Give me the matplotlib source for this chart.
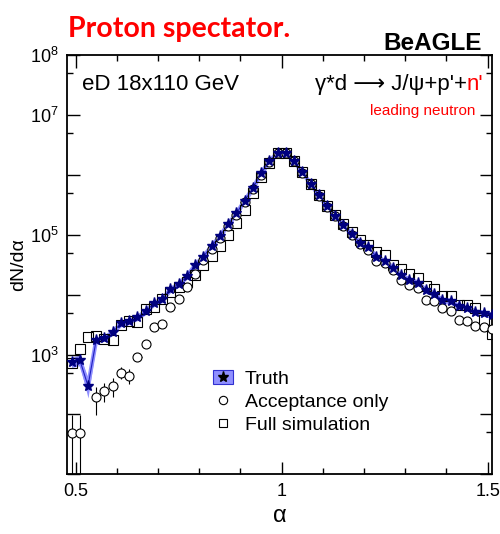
import numpy as np
import matplotlib
matplotlib.use("Agg")
import matplotlib.pyplot as plt
from matplotlib.lines import Line2D
from matplotlib.patches import Patch
from matplotlib.legend_handler import HandlerTuple
from matplotlib.ticker import MultipleLocator, LogLocator, FuncFormatter, NullFormatter

plt.rcParams["font.family"] = ["Liberation Sans", "DejaVu Sans"]
plt.rcParams["mathtext.fontset"] = "custom"
plt.rcParams["mathtext.rm"] = "Liberation Sans"
plt.rcParams["mathtext.it"] = "Liberation Sans:italic"

# bin centres in alpha (bin width 0.02)
alpha = np.round(np.arange(0.49, 1.52, 0.02), 2)

truth = [762, 817, 299, 1770, 1900, 2390, 3320, 3650, 4200, 5300,
         7180, 8450, 12300, 15200, 20600, 31300, 43500, 64600, 96200, 150000,
         228000, 373000, 596000, 1070000, 1700000, 2360000, 2360000, 1700000, 1120000, 718000,
         460000, 302000, 208000, 147000, 103000, 74300, 61700, 43500, 36100, 28500,
         21000, 17900, 15900, 12000, 10400, 8070, 7890, 6390, 6100, 5180,
         4940, 4610]
truth_rel = [0.2, 0.2, 0.37] + [0.12] * 49

acceptance = [49, 49, np.nan, 196, 248, 299, 500, 445, 918, 1500,
              2880, 3240, 6240, 8650, 13500, 22600, 37800, 58900, 89500, 140000,
              213000, 356000, 581000, 1020000, 1660000, 2360000, 2360000, 1700000, 1090000, 701000,
              450000, 295000, 203000, 140000, 98400, 69300, 56100, 36900, 33600, 26000,
              17500, 14500, 12900, 8260, 7890, 5960, 5420, 3730, 3650, 3030,
              2880, 2630]
acc_err = [48, 48, 0, 97, 85, 100, 110, 120, 130, 150] + [0] * 42

fullsim = [728, 1240, 1990, 2030, 1810, 1770, 3100, 3650, 3560, 5820,
           6240, 8450, 11200, 13500, 16300, 21600, 31300, 44500, 64600, 98400,
           161000, 256000, 493000, 927000, 1590000, 2360000, 2360000, 1700000, 1120000, 718000,
           471000, 309000, 213000, 153000, 111000, 81700, 67800, 51200, 45500, 31300,
           26600, 22100, 18700, 13800, 12300, 9510, 9510, 6700, 6700, 6100,
           3730, 2230]

truth = np.array(truth, dtype=float)
truth_rel = np.array(truth_rel)
acceptance = np.array(acceptance, dtype=float)
acc_err = np.array(acc_err, dtype=float)
fullsim = np.array(fullsim, dtype=float)

band_color = "#9090ff"
star_color = "#00007f"

fig = plt.figure(figsize=(5.0, 5.34), dpi=100)
ax = fig.add_axes([0.134, 0.1118, 0.85, 0.7846])
ax.set_yscale("log")

# truth band + line
ax.fill_between(alpha, truth * (1 - truth_rel), truth * (1 + truth_rel),
                color=band_color, lw=0, zorder=1)
ax.plot(alpha, truth, color=band_color, lw=3, zorder=1)
ax.plot(alpha, truth, color="#2020c0", lw=0.8, zorder=2)

# full simulation
ax.plot(alpha, fullsim, ls="none", marker="s", ms=6.5, mfc="none",
        mec="black", mew=0.8, zorder=3)

# acceptance only
ok = ~np.isnan(acceptance)
ax.errorbar(alpha[ok], acceptance[ok], yerr=acc_err[ok], xerr=0.01, fmt="o", ms=6.5,
            mfc="white", mec="black", mew=0.8, ecolor="black", elinewidth=0.8,
            capsize=0, zorder=4)

# truth stars
ax.plot(alpha, truth, ls="none", marker="*", ms=8, color=star_color,
        mec=star_color, zorder=5)

ax.set_xlim(0.479, 1.5105)
ax.set_ylim(10, 1e8)

ax.xaxis.set_major_locator(MultipleLocator(0.5))
ax.xaxis.set_minor_locator(MultipleLocator(0.1))
ax.xaxis.set_major_formatter(FuncFormatter(lambda v, p: f"{v:g}"))

ax.yaxis.set_major_locator(LogLocator(base=10, numticks=20))
ax.yaxis.set_minor_locator(LogLocator(base=10, subs=(5,), numticks=20))
shown = {3, 5, 7, 8}
ax.yaxis.set_major_formatter(FuncFormatter(
    lambda v, p: rf"$10^{{{int(round(np.log10(v)))}}}$" if int(round(np.log10(v))) in shown else ""))
ax.yaxis.set_minor_formatter(NullFormatter())

ax.tick_params(which="both", direction="in", top=True, right=True, width=1.0)
ax.tick_params(which="major", length=9, labelsize=13, pad=6)
ax.tick_params(which="minor", length=4.5)
for s in ax.spines.values():
    s.set_linewidth(1.3)

ax.set_xlabel("\u03b1", fontsize=17, labelpad=4)
ax.set_ylabel("dN/d\u03b1", fontsize=14, labelpad=2)

# annotations
ax.text(0.035, 0.955, "eD 18x110 GeV", transform=ax.transAxes, fontsize=16,
        ha="left", va="top")
red_n = ax.text(0.98, 0.955, "n'", transform=ax.transAxes, fontsize=16,
                ha="right", va="top", color="red")
ax.annotate("\u03b3*d \u27f6 J/\u03c8+p'+", xy=(0, 0), xycoords=red_n,
            ha="right", va="bottom", fontsize=16)
ax.text(0.96, 0.885, "leading neutron", transform=ax.transAxes, fontsize=11,
        ha="right", va="top", color="red")

fig.text(0.136, 0.945, "Proton spectator.", fontsize=20.5, fontweight="bold",
         family="Lato", color="red", ha="left", va="center")
fig.text(0.963, 0.918, "BeAGLE", fontsize=17.5, fontweight="bold",
         ha="right", va="center")

# legend
h_truth = (Patch(facecolor=band_color, edgecolor="#3030d0", lw=0.8),
           Line2D([], [], ls="none", marker="*", ms=8, color="black"))
h_acc = Line2D([], [], ls="none", marker="o", ms=6, mfc="white", mec="black", mew=0.8)
h_full = Line2D([], [], ls="none", marker="s", ms=6, mfc="white", mec="black", mew=0.8)
ax.legend([h_truth, h_acc, h_full], ["Truth", "Acceptance only", "Full simulation"],
          handler_map={tuple: HandlerTuple(ndivide=1, pad=0)},
          loc="upper left", bbox_to_anchor=(0.343, 0.25), frameon=False,
          fontsize=14, handlelength=1.05, handleheight=0.8, handletextpad=0.6,
          labelspacing=0.25, borderpad=0, borderaxespad=0)

fig.savefig("out.png", dpi=100)
